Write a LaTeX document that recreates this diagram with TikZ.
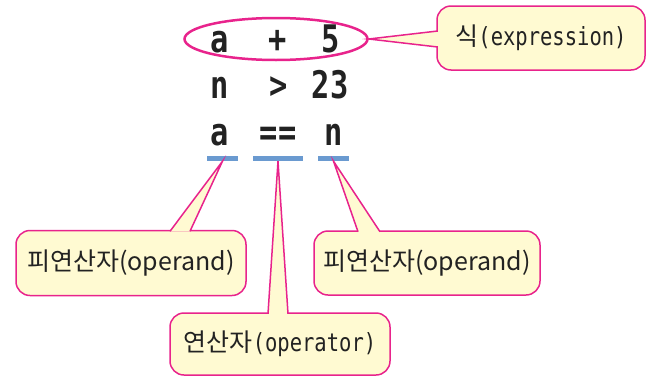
\documentclass[tikz,border=0pt]{standalone}
\usepackage{fontspec}
\setmainfont{Noto Sans CJK KR}
\setmonofont{DejaVu Sans Mono}[FakeStretch=0.82]
\newfontfamily\codefont{DejaVu Sans Mono}[FakeStretch=0.8]
\usetikzlibrary{shapes.geometric,calc}
\definecolor{callfill}{HTML}{FFFAD2}
\definecolor{callline}{HTML}{E8238C}
\definecolor{barblue}{HTML}{6A9AD0}
\definecolor{inkgray}{HTML}{222222}
\tikzset{
  callout/.style={draw=callline, fill=callfill, line width=1.5pt, rounded corners=14pt, text=inkgray},
  pointer/.style={draw=callline, fill=callfill, line width=1.5pt, line join=miter},
  bar/.style={fill=barblue, inner sep=0pt, minimum height=5pt},
  code/.style={anchor=base, text=inkgray, font=\codefont\bfseries\fontsize{38}{40}\selectfont},
  korean/.style={font=\fontsize{25}{28}\selectfont},
  tlabel/.style={font=\fontsize{25}{28}\selectfont}
}
\begin{document}
\begin{tikzpicture}[x=1pt, y=-1pt]
\useasboundingbox (0,0) rectangle (648,378);
\node[ellipse, draw=callline, line width=2.5pt, minimum width=183pt, minimum height=42pt] (expr) at (276,39) {};
\node[callout, tlabel, minimum width=208pt, minimum height=64pt] (exp) at (541,38) {식\texttt{(expression)}};
\node[callout, korean, minimum width=230pt, minimum height=65pt] (opl) at (131,263) {피연산자(operand)};
\node[callout, korean, minimum width=226pt, minimum height=64pt] (opr) at (427,263) {피연산자(operand)};
\node[callout, tlabel, minimum width=220pt, minimum height=62pt] (opm) at (280,344) {연산자\texttt{(operator)}};
\node[bar, minimum width=31pt] (barl) at (222.5,158.5) {};
\node[bar, minimum width=50pt] (barm) at (278,158.5) {};
\node[bar, minimum width=31pt] (barr) at (333.5,158.5) {};
\path[pointer] ($(exp.west)+(1.5,-7)$) -- (expr.east) -- ($(exp.west)+(1.5,9)$);
\path[pointer] ($(opl.north)+(39,1.5)$) -- (barl.south) -- ($(opl.north)+(59,1.5)$);
\path[pointer] ($(opr.north)+(-69,1.5)$) -- (barr.south) -- ($(opr.north)+(-47,1.5)$);
\path[pointer] ($(opm.north)+(-12,1.5)$) -- (barm.south) -- ($(opm.north)+(8,1.5)$);
\node[code] (a1) at (220,52) {a};
\node[code] (plus) at (278,52) {+};
\node[code] (five) at (331,52) {5};
\node[code] (n2) at (220,98) {n};
\node[code] (gt) at (279,98) {>};
\node[code] (tt) at (330,98) {23};
\node[code] (a3) at (220,145) {a};
\node[code] (eq) at (278,145) {==};
\node[code] (n3) at (334,145) {n};
\end{tikzpicture}
\end{document}
